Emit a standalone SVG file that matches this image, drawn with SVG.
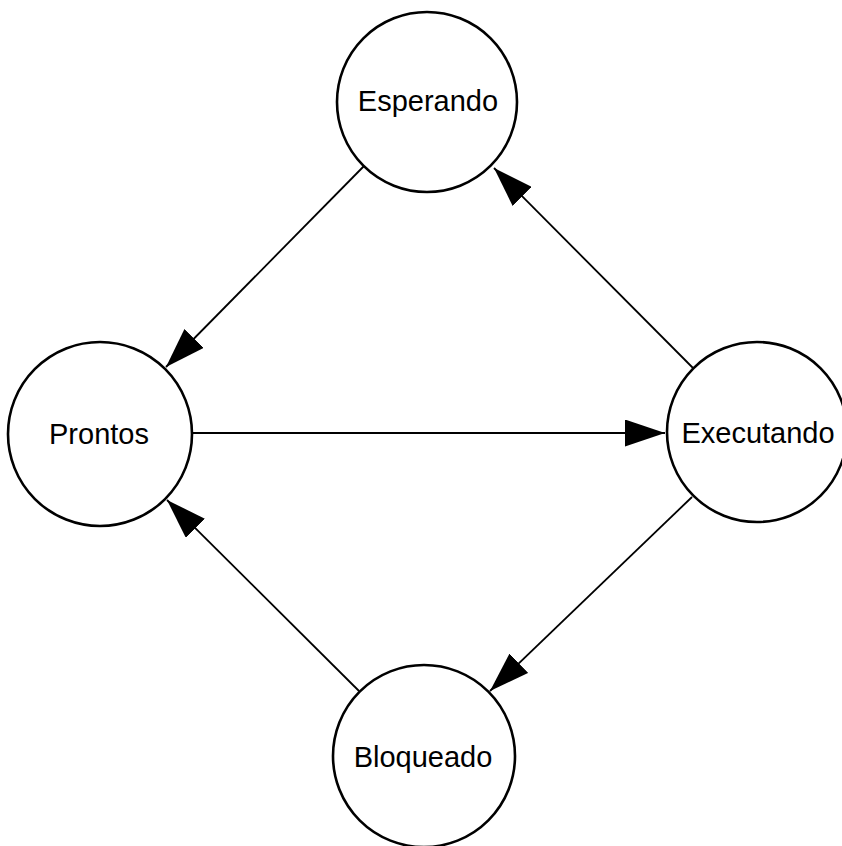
<svg xmlns="http://www.w3.org/2000/svg" width="842" height="846" viewBox="0 0 842 846">
  <style>
    .state circle { fill: #ffffff; stroke: #000000; stroke-width: 2.6; }
    .state text { font-family: "Liberation Sans", Arial, sans-serif; font-size: 29px; fill: #000000; text-anchor: middle; }
    .edge { stroke: #000000; stroke-width: 1.8; fill: none; marker-end: url(#arrow); }
  </style>
  <defs>
    <marker id="arrow" viewBox="0 0 40 27" refX="40" refY="13.5" markerWidth="40" markerHeight="27" markerUnits="userSpaceOnUse" orient="auto">
      <path d="M0,0 L40,13.5 L0,27 z" fill="#000000"/>
    </marker>
  </defs>
  <rect width="842" height="846" fill="#ffffff"/>

  <g id="connectors">
    <!-- Esperando to Prontos -->
    <line class="edge" x1="364" y1="166" x2="166" y2="367"/>
    <!-- Executando to Esperando -->
    <line class="edge" x1="693" y1="368" x2="494" y2="168"/>
    <!-- Prontos to Executando -->
    <line class="edge" x1="193" y1="433" x2="665" y2="433"/>
    <!-- Executando to Bloqueado -->
    <line class="edge" x1="692" y1="497" x2="490" y2="691"/>
    <!-- Bloqueado to Prontos -->
    <line class="edge" x1="359" y1="691" x2="167" y2="500"/>
  </g>

  <g id="esperando" class="state">
    <circle cx="427" cy="102" r="90"/>
    <text x="428" y="111">Esperando</text>
  </g>
  <g id="prontos" class="state">
    <circle cx="100" cy="434" r="92"/>
    <text x="99" y="444">Prontos</text>
  </g>
  <g id="executando" class="state">
    <circle cx="757" cy="432" r="90"/>
    <text x="758" y="443">Executando</text>
  </g>
  <g id="bloqueado" class="state">
    <circle cx="424" cy="756" r="91"/>
    <text x="423" y="767">Bloqueado</text>
  </g>
</svg>
